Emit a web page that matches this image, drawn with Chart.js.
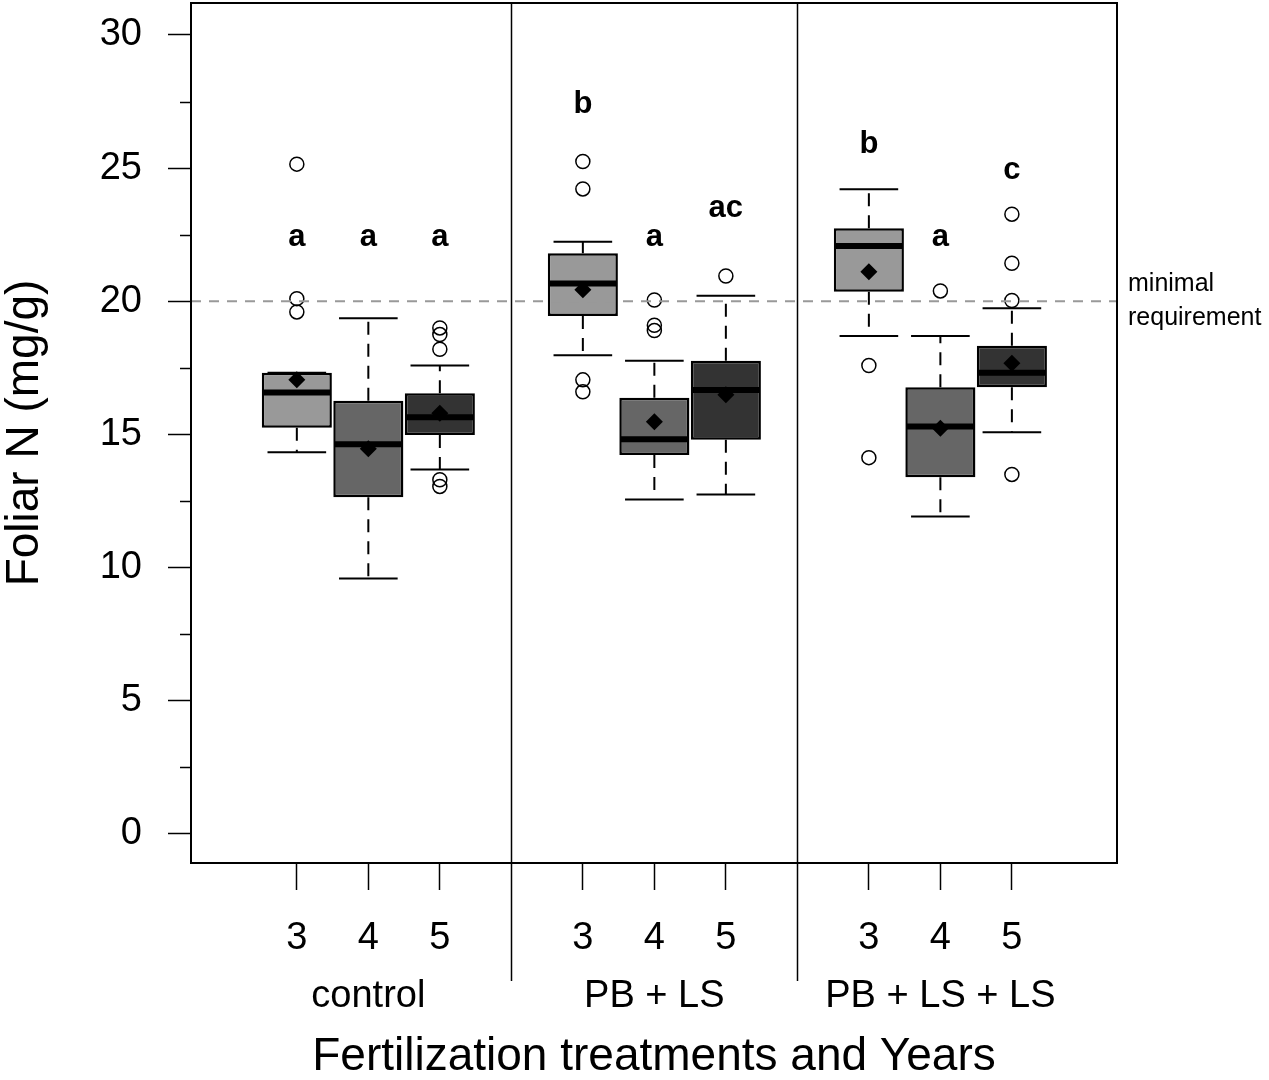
<!DOCTYPE html>
<html>
<head>
<meta charset="utf-8">
<script src="https://cdn.jsdelivr.net/npm/chart.js@4.4.1/dist/chart.umd.min.js"></script>
<style>
  html, body { margin: 0; padding: 0; background: #fff; }
  #wrap { width: 1269px; height: 1080px; }
</style>
</head>
<body>
<div id="wrap"><canvas id="chart" width="1269" height="1080"></canvas></div>
<script>
// treatments, years and where each box sits on the x axis
const groups = ['control', 'PB + LS', 'PB + LS + LS'];
const years = ['3', '4', '5'];
const positions = [1, 2, 3, 5, 6, 7, 9, 10, 11];
const separators = [4, 8];

// box statistics, one entry per box (group x year)
const q1 =          [15.25, 12.64, 14.98, 19.45, 14.23, 14.80, 20.36, 13.39, 16.77];
const medians =     [16.58, 14.63, 15.65, 20.67, 14.82, 16.67, 22.08, 15.30, 17.32];
const q3 =          [17.32, 16.27, 16.55, 21.80, 16.38, 17.77, 22.74, 16.77, 18.33];
const whiskerLow =  [14.33,  9.59, 13.68, 17.97, 12.56, 12.75, 18.70, 11.92, 15.08];
const whiskerHigh = [17.32, 19.36, 17.59, 22.24, 17.77, 20.21, 24.21, 18.70, 19.74];
const means =       [17.05, 14.46, 15.80, 20.43, 15.48, 16.49, 21.11, 15.23, 17.67];
const outliers = [
  [25.15, 20.10, 19.60],
  [],
  [19.00, 18.75, 18.20, 13.30, 13.05],
  [25.25, 24.22, 17.05, 16.60],
  [20.05, 19.10, 18.90],
  [20.95],
  [17.59, 14.13],
  [20.39],
  [23.27, 21.43, 20.03, 13.50]
];

// significance letters and the height they are written at
const letters = ['a', 'a', 'a', 'b', 'a', 'ac', 'b', 'a', 'c'];
const letterY = [22.4, 22.4, 22.4, 27.4, 22.4, 23.5, 25.9, 22.4, 24.9];

const yTicks = [0, 5, 10, 15, 20, 25, 30];
const yMinorTicks = [2.5, 7.5, 12.5, 17.5, 22.5, 27.5];
const requirement = 20;
const requirementText = ['minimal', 'requirement'];

const boxColors = ['#999999', '#666666', '#333333'];
const capWidth = 0.82;

Chart.defaults.font.family = '"Liberation Sans", Arial, sans-serif';
Chart.defaults.color = '#000';

const boxPlot = {
  id: 'boxPlot',
  beforeDatasetsDraw(chart) {
    const { ctx, scales: { x, y } } = chart;
    ctx.save();
    ctx.strokeStyle = '#000';
    ctx.lineWidth = 2;
    positions.forEach((p, i) => {
      const px = x.getPixelForValue(p);
      const half = (x.getPixelForValue(p + capWidth / 2) - x.getPixelForValue(p - capWidth / 2)) / 2;
      // dashed whiskers
      ctx.setLineDash([13, 9]);
      ctx.beginPath();
      ctx.moveTo(px, y.getPixelForValue(q3[i]));
      ctx.lineTo(px, y.getPixelForValue(whiskerHigh[i]));
      ctx.moveTo(px, y.getPixelForValue(q1[i]));
      ctx.lineTo(px, y.getPixelForValue(whiskerLow[i]));
      ctx.stroke();
      // caps
      ctx.setLineDash([]);
      ctx.beginPath();
      [whiskerHigh[i], whiskerLow[i]].forEach(v => {
        const py = y.getPixelForValue(v);
        ctx.moveTo(px - half, py);
        ctx.lineTo(px + half, py);
      });
      ctx.stroke();
    });
    ctx.restore();
  },
  afterDatasetsDraw(chart) {
    const { ctx, chartArea, scales: { x, y } } = chart;
    const bars = chart.getDatasetMeta(0).data;
    ctx.save();
    // medians
    ctx.strokeStyle = '#000';
    ctx.lineWidth = 6;
    bars.forEach((bar, i) => {
      const py = y.getPixelForValue(medians[i]);
      ctx.beginPath();
      ctx.moveTo(bar.x - bar.width / 2 + 1, py);
      ctx.lineTo(bar.x + bar.width / 2 - 1, py);
      ctx.stroke();
    });
    // requirement line
    const ry = y.getPixelForValue(requirement);
    ctx.strokeStyle = '#999999';
    ctx.lineWidth = 2;
    ctx.setLineDash([10, 8]);
    ctx.beginPath();
    ctx.moveTo(chartArea.left, ry);
    ctx.lineTo(chartArea.right, ry);
    ctx.stroke();
    ctx.setLineDash([]);
    // letters
    ctx.fillStyle = '#000';
    ctx.font = 'bold 31px "Liberation Sans", Arial, sans-serif';
    ctx.textAlign = 'center';
    ctx.textBaseline = 'middle';
    positions.forEach((p, i) => {
      ctx.fillText(letters[i], x.getPixelForValue(p), y.getPixelForValue(letterY[i]));
    });
    ctx.restore();
  },
  afterDraw(chart) {
    const { ctx, chartArea, scales: { x, y } } = chart;
    ctx.save();
    ctx.strokeStyle = '#000';
    ctx.lineWidth = 2;
    ctx.strokeRect(chartArea.left, chartArea.top, chartArea.right - chartArea.left, chartArea.bottom - chartArea.top);
    // group separators run down between the tick labels
    ctx.lineWidth = 1.5;
    separators.forEach(s => {
      const px = Math.round(x.getPixelForValue(s)) + 0.5;
      ctx.beginPath();
      ctx.moveTo(px, chartArea.top);
      ctx.lineTo(px, 981);
      ctx.stroke();
    });
    // minor y ticks
    yMinorTicks.forEach(v => {
      const py = Math.round(y.getPixelForValue(v)) + 0.5;
      ctx.beginPath();
      ctx.moveTo(chartArea.left - 11, py);
      ctx.lineTo(chartArea.left, py);
      ctx.stroke();
    });
    // label for the requirement line
    const ry = y.getPixelForValue(requirement);
    ctx.fillStyle = '#000';
    ctx.font = '25px "Liberation Sans", Arial, sans-serif';
    ctx.textAlign = 'left';
    ctx.textBaseline = 'middle';
    ctx.fillText(requirementText[0], chartArea.right + 11, ry - 17);
    ctx.fillText(requirementText[1], chartArea.right + 11, ry + 17);
    ctx.restore();
  }
};

new Chart(document.getElementById('chart'), {
  data: {
    datasets: [
      {
        type: 'bar',
        data: positions.map((p, i) => ({ x: p, y: [q1[i], q3[i]] })),
        backgroundColor: positions.map((p, i) => boxColors[i % 3]),
        borderColor: '#000',
        borderWidth: 2.5,
        borderSkipped: false,
        barPercentage: 0.98,
        categoryPercentage: 1,
        order: 3
      },
      {
        type: 'scatter',
        data: positions.map((p, i) => ({ x: p, y: means[i] })),
        pointStyle: 'rectRot',
        pointRadius: 8.5,
        backgroundColor: '#000',
        borderColor: '#000',
        borderWidth: 0,
        order: 2
      },
      {
        type: 'scatter',
        data: positions.flatMap((p, i) => outliers[i].map(v => ({ x: p, y: v }))),
        pointStyle: 'circle',
        pointRadius: 7,
        backgroundColor: 'rgba(0,0,0,0)',
        borderColor: '#000',
        borderWidth: 1.5,
        order: 1
      }
    ]
  },
  options: {
    responsive: false,
    animation: false,
    devicePixelRatio: 1,
    layout: { autoPadding: false, padding: { left: 0, top: 3, right: 152, bottom: 0 } },
    plugins: { legend: { display: false }, tooltip: { enabled: false } },
    scales: {
      x: {
        type: 'linear',
        offset: false,
        min: -0.48,
        max: 12.47,
        afterBuildTicks: s => { s.ticks = positions.map(v => ({ value: v })); },
        afterFit: s => { s.height = 217; s.paddingLeft = 0; s.paddingRight = 0; },
        grid: { offset: false, drawOnChartArea: false, tickLength: 27, tickColor: '#000', tickWidth: 1.5 },
        border: { display: false },
        ticks: {
          autoSkip: false,
          maxRotation: 0,
          minRotation: 0,
          padding: 19,
          font: { size: 38, lineHeight: 1.53 },
          callback: (v, i) => (i % 3 === 1 ? [years[1], groups[Math.floor(i / 3)]] : years[i % 3])
        },
        title: {
          display: true,
          text: 'Fertilization treatments and Years',
          font: { size: 46, lineHeight: 1 },
          padding: { top: 0, bottom: 0 }
        }
      },
      y: {
        min: -1.09,
        max: 31.2,
        afterBuildTicks: s => { s.ticks = yTicks.map(v => ({ value: v })); },
        afterFit: s => { s.width = 191; s.paddingTop = 0; s.paddingBottom = 0; },
        grid: { drawOnChartArea: false, tickLength: 23, tickColor: '#000', tickWidth: 1.5 },
        border: { display: false },
        ticks: { padding: 26, font: { size: 38 } },
        title: {
          display: true,
          text: 'Foliar N (mg/g)',
          font: { size: 46, lineHeight: 1 },
          padding: { top: 2, bottom: 0 }
        }
      }
    }
  },
  plugins: [boxPlot]
});
</script>
</body>
</html>
